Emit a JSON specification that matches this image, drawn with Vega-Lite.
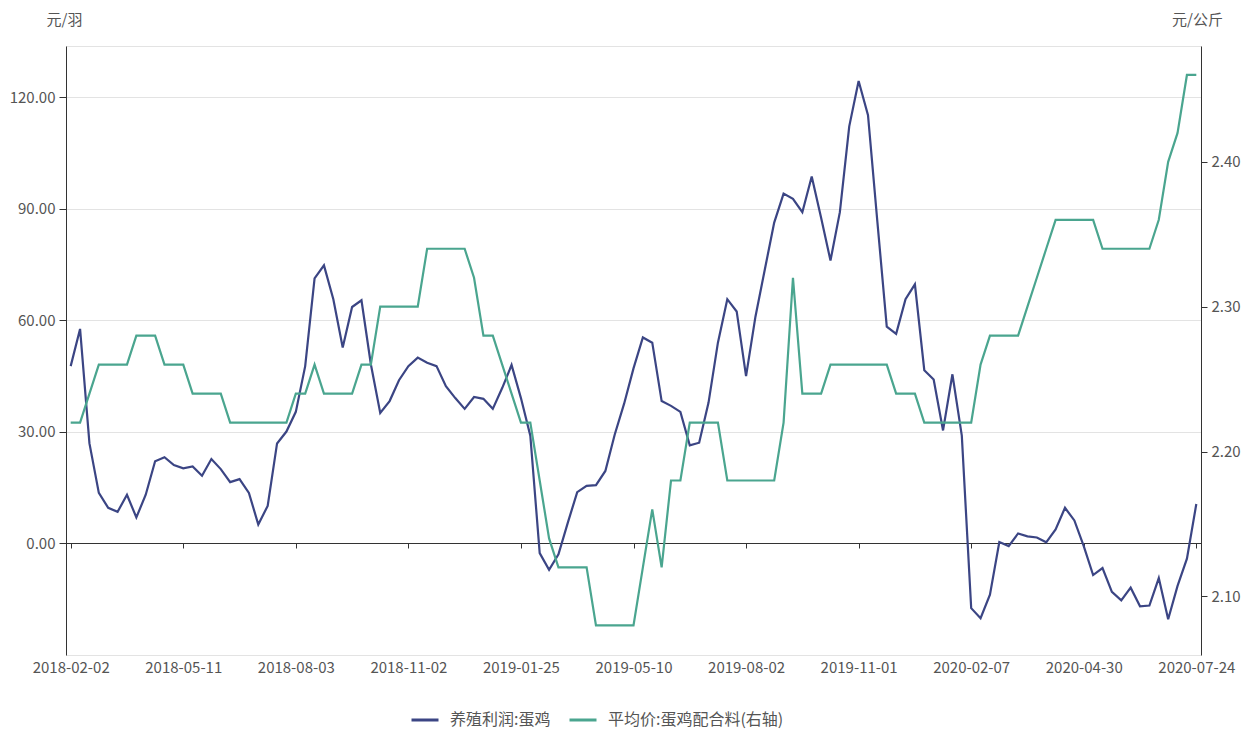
{
  "$schema": "https://vega.github.io/schema/vega-lite/v6.json",
  "width": 1135,
  "height": 609,
  "autosize": {"type": "none"},
  "padding": {"left": 66, "top": 46, "right": 51, "bottom": 76},
  "background": "#ffffff",
  "config": {
    "view": {"stroke": "#e3e3e3", "strokeWidth": 1},
    "font": "Noto Sans CJK SC",
    "axis": {
      "labelFont": "Noto Sans CJK SC",
      "labelFontSize": 15,
      "labelColor": "#555555",
      "titleFont": "Noto Sans CJK SC",
      "titleFontSize": 15,
      "titleFontWeight": "normal",
      "titleColor": "#555555",
      "domainColor": "#333333",
      "tickColor": "#333333",
      "gridColor": "#e3e3e3"
    },
    "legend": {
      "labelFont": "Noto Sans CJK SC",
      "labelFontSize": 16,
      "labelColor": "#555555",
      "labelLimit": 0
    }
  },
  "data": {
    "values": [
      {"date": "2018-02-02", "profit": 47.7, "feed": 2.22},
      {"date": "2018-02-09", "profit": 57.7, "feed": 2.22},
      {"date": "2018-03-02", "profit": 26.9, "feed": 2.24},
      {"date": "2018-03-09", "profit": 13.6, "feed": 2.26},
      {"date": "2018-03-16", "profit": 9.6, "feed": 2.26},
      {"date": "2018-03-23", "profit": 8.5, "feed": 2.26},
      {"date": "2018-03-30", "profit": 13.1, "feed": 2.26},
      {"date": "2018-04-06", "profit": 7.0, "feed": 2.28},
      {"date": "2018-04-13", "profit": 13.1, "feed": 2.28},
      {"date": "2018-04-20", "profit": 22.1, "feed": 2.28},
      {"date": "2018-04-27", "profit": 23.2, "feed": 2.26},
      {"date": "2018-05-04", "profit": 21.1, "feed": 2.26},
      {"date": "2018-05-11", "profit": 20.2, "feed": 2.26},
      {"date": "2018-05-18", "profit": 20.7, "feed": 2.24},
      {"date": "2018-05-25", "profit": 18.2, "feed": 2.24},
      {"date": "2018-06-01", "profit": 22.7, "feed": 2.24},
      {"date": "2018-06-08", "profit": 20.0, "feed": 2.24},
      {"date": "2018-06-15", "profit": 16.5, "feed": 2.22},
      {"date": "2018-06-22", "profit": 17.3, "feed": 2.22},
      {"date": "2018-06-29", "profit": 13.6, "feed": 2.22},
      {"date": "2018-07-06", "profit": 5.1, "feed": 2.22},
      {"date": "2018-07-13", "profit": 10.1, "feed": 2.22},
      {"date": "2018-07-20", "profit": 26.9, "feed": 2.22},
      {"date": "2018-07-27", "profit": 30.1, "feed": 2.22},
      {"date": "2018-08-03", "profit": 35.4, "feed": 2.24},
      {"date": "2018-08-10", "profit": 47.7, "feed": 2.24},
      {"date": "2018-08-17", "profit": 71.3, "feed": 2.26},
      {"date": "2018-08-24", "profit": 74.8, "feed": 2.24},
      {"date": "2018-08-31", "profit": 65.7, "feed": 2.24},
      {"date": "2018-09-07", "profit": 52.7, "feed": 2.24},
      {"date": "2018-09-14", "profit": 63.6, "feed": 2.24},
      {"date": "2018-09-21", "profit": 65.4, "feed": 2.26},
      {"date": "2018-09-28", "profit": 48.2, "feed": 2.26},
      {"date": "2018-10-12", "profit": 35.1, "feed": 2.30},
      {"date": "2018-10-19", "profit": 38.3, "feed": 2.30},
      {"date": "2018-10-26", "profit": 43.9, "feed": 2.30},
      {"date": "2018-11-02", "profit": 47.7, "feed": 2.30},
      {"date": "2018-11-09", "profit": 50.0, "feed": 2.30},
      {"date": "2018-11-16", "profit": 48.6, "feed": 2.34},
      {"date": "2018-11-23", "profit": 47.7, "feed": 2.34},
      {"date": "2018-11-30", "profit": 42.3, "feed": 2.34},
      {"date": "2018-12-07", "profit": 39.1, "feed": 2.34},
      {"date": "2018-12-14", "profit": 36.2, "feed": 2.34},
      {"date": "2018-12-21", "profit": 39.4, "feed": 2.32},
      {"date": "2018-12-28", "profit": 38.9, "feed": 2.28},
      {"date": "2019-01-04", "profit": 36.2, "feed": 2.28},
      {"date": "2019-01-11", "profit": 41.8, "feed": 2.26},
      {"date": "2019-01-18", "profit": 48.0, "feed": 2.24},
      {"date": "2019-01-25", "profit": 39.1, "feed": 2.22},
      {"date": "2019-02-01", "profit": 29.0, "feed": 2.22},
      {"date": "2019-02-22", "profit": -2.6, "feed": 2.18},
      {"date": "2019-03-01", "profit": -7.1, "feed": 2.14},
      {"date": "2019-03-08", "profit": -2.9, "feed": 2.12},
      {"date": "2019-03-15", "profit": 5.6, "feed": 2.12},
      {"date": "2019-03-22", "profit": 13.8, "feed": 2.12},
      {"date": "2019-03-29", "profit": 15.5, "feed": 2.12},
      {"date": "2019-04-04", "profit": 15.7, "feed": 2.08},
      {"date": "2019-04-12", "profit": 19.5, "feed": 2.08},
      {"date": "2019-04-19", "profit": 29.3, "feed": 2.08},
      {"date": "2019-04-26", "profit": 37.6, "feed": 2.08},
      {"date": "2019-05-10", "profit": 47.1, "feed": 2.08},
      {"date": "2019-05-17", "profit": 55.4, "feed": 2.12},
      {"date": "2019-05-24", "profit": 54.0, "feed": 2.16},
      {"date": "2019-05-31", "profit": 38.3, "feed": 2.12},
      {"date": "2019-06-06", "profit": 37.0, "feed": 2.18},
      {"date": "2019-06-14", "profit": 35.4, "feed": 2.18},
      {"date": "2019-06-21", "profit": 26.4, "feed": 2.22},
      {"date": "2019-06-28", "profit": 27.1, "feed": 2.22},
      {"date": "2019-07-05", "profit": 37.9, "feed": 2.22},
      {"date": "2019-07-12", "profit": 54.0, "feed": 2.22},
      {"date": "2019-07-19", "profit": 65.7, "feed": 2.18},
      {"date": "2019-07-26", "profit": 62.4, "feed": 2.18},
      {"date": "2019-08-02", "profit": 45.0, "feed": 2.18},
      {"date": "2019-08-09", "profit": 61.0, "feed": 2.18},
      {"date": "2019-08-16", "profit": 73.7, "feed": 2.18},
      {"date": "2019-08-23", "profit": 86.3, "feed": 2.18},
      {"date": "2019-08-30", "profit": 94.1, "feed": 2.22},
      {"date": "2019-09-06", "profit": 92.7, "feed": 2.32},
      {"date": "2019-09-12", "profit": 89.1, "feed": 2.24},
      {"date": "2019-09-20", "profit": 98.7, "feed": 2.24},
      {"date": "2019-09-27", "profit": 87.6, "feed": 2.24},
      {"date": "2019-10-11", "profit": 76.1, "feed": 2.26},
      {"date": "2019-10-18", "profit": 89.1, "feed": 2.26},
      {"date": "2019-10-25", "profit": 112.2, "feed": 2.26},
      {"date": "2019-11-01", "profit": 124.4, "feed": 2.26},
      {"date": "2019-11-08", "profit": 115.2, "feed": 2.26},
      {"date": "2019-11-15", "profit": 86.5, "feed": 2.26},
      {"date": "2019-11-22", "profit": 58.3, "feed": 2.26},
      {"date": "2019-11-29", "profit": 56.4, "feed": 2.24},
      {"date": "2019-12-06", "profit": 65.7, "feed": 2.24},
      {"date": "2019-12-13", "profit": 69.7, "feed": 2.24},
      {"date": "2019-12-20", "profit": 46.6, "feed": 2.22},
      {"date": "2019-12-27", "profit": 44.1, "feed": 2.22},
      {"date": "2020-01-03", "profit": 30.4, "feed": 2.22},
      {"date": "2020-01-10", "profit": 45.5, "feed": 2.22},
      {"date": "2020-01-17", "profit": 29.0, "feed": 2.22},
      {"date": "2020-02-07", "profit": -17.4, "feed": 2.22},
      {"date": "2020-02-14", "profit": -20.1, "feed": 2.26},
      {"date": "2020-02-21", "profit": -13.8, "feed": 2.28},
      {"date": "2020-02-28", "profit": 0.4, "feed": 2.28},
      {"date": "2020-03-06", "profit": -0.7, "feed": 2.28},
      {"date": "2020-03-13", "profit": 2.7, "feed": 2.28},
      {"date": "2020-03-20", "profit": 1.9, "feed": 2.30},
      {"date": "2020-03-27", "profit": 1.6, "feed": 2.32},
      {"date": "2020-04-03", "profit": 0.3, "feed": 2.34},
      {"date": "2020-04-10", "profit": 3.8, "feed": 2.36},
      {"date": "2020-04-17", "profit": 9.6, "feed": 2.36},
      {"date": "2020-04-24", "profit": 6.2, "feed": 2.36},
      {"date": "2020-04-30", "profit": -0.7, "feed": 2.36},
      {"date": "2020-05-08", "profit": -8.5, "feed": 2.36},
      {"date": "2020-05-15", "profit": -6.6, "feed": 2.34},
      {"date": "2020-05-22", "profit": -13.0, "feed": 2.34},
      {"date": "2020-05-29", "profit": -15.3, "feed": 2.34},
      {"date": "2020-06-05", "profit": -11.9, "feed": 2.34},
      {"date": "2020-06-12", "profit": -16.9, "feed": 2.34},
      {"date": "2020-06-19", "profit": -16.7, "feed": 2.34},
      {"date": "2020-06-24", "profit": -9.3, "feed": 2.36},
      {"date": "2020-07-03", "profit": -20.4, "feed": 2.40},
      {"date": "2020-07-10", "profit": -11.4, "feed": 2.42},
      {"date": "2020-07-17", "profit": -4.1, "feed": 2.46},
      {"date": "2020-07-24", "profit": 10.6, "feed": 2.46}
    ]
  },
  "layer": [
    {
      "mark": {"type": "line", "strokeWidth": 2.2, "interpolate": "linear"},
      "encoding": {
        "x": {
          "field": "date",
          "type": "ordinal",
          "sort": null,
          "scale": {"type": "point", "padding": 0.5},
          "axis": {
            "title": null,
            "orient": "bottom",
            "offset": -112,
            "labels": false,
            "grid": false,
            "domain": true,
            "ticks": true,
            "tickSize": 5,
            "values": ["2018-02-02", "2018-05-11", "2018-08-03", "2018-11-02", "2019-01-25", "2019-05-10", "2019-08-02", "2019-11-01", "2020-02-07", "2020-04-30", "2020-07-24"]
          }
        },
        "y": {
          "field": "profit",
          "type": "quantitative",
          "scale": {"domain": [-30, 133.8], "nice": false, "zero": false},
          "axis": {
            "orient": "left",
            "values": [0, 30, 60, 90, 120],
            "format": ".2f",
            "grid": true,
            "tickSize": 7,
            "labelPadding": 4,
            "title": "元/羽",
            "titleAngle": 0,
            "titleAlign": "center",
            "titleBaseline": "middle",
            "titleX": -2,
            "titleY": -27
          }
        },
        "color": {
          "datum": "养殖利润:蛋鸡",
          "type": "nominal",
          "scale": {
            "domain": ["养殖利润:蛋鸡", "平均价:蛋鸡配合料(右轴)"],
            "range": ["#3b4584", "#4aa58f"]
          },
          "legend": {
            "title": null,
            "orient": "none",
            "direction": "horizontal",
            "legendX": 344,
            "legendY": 659,
            "symbolType": "stroke",
            "symbolSize": 729,
            "symbolStrokeWidth": 3,
            "labelOffset": 10,
            "columnPadding": 12,
            "labelLimit": 0,
            "padding": 0
          }
        }
      }
    },
    {
      "mark": {"type": "line", "strokeWidth": 2.2, "interpolate": "linear"},
      "encoding": {
        "x": {
          "field": "date",
          "type": "ordinal",
          "sort": null,
          "scale": {"type": "point", "padding": 0.5},
          "axis": {
            "title": null,
            "orient": "bottom",
            "labels": true,
            "labelAngle": 0,
            "grid": false,
            "domain": false,
            "ticks": false,
            "tickSize": 0,
            "labelPadding": 5,
            "values": ["2018-02-02", "2018-05-11", "2018-08-03", "2018-11-02", "2019-01-25", "2019-05-10", "2019-08-02", "2019-11-01", "2020-02-07", "2020-04-30", "2020-07-24"]
          }
        },
        "y": {
          "field": "feed",
          "type": "quantitative",
          "scale": {"domain": [2.0595, 2.48], "nice": false, "zero": false},
          "axis": {
            "orient": "right",
            "values": [2.1, 2.2, 2.3, 2.4],
            "format": ".2f",
            "grid": false,
            "tickSize": 6,
            "labelPadding": 4,
            "title": "元/公斤",
            "titleAngle": 0,
            "titleAlign": "center",
            "titleBaseline": "middle",
            "titleX": -4,
            "titleY": -27
          }
        },
        "color": {"datum": "平均价:蛋鸡配合料(右轴)", "type": "nominal"}
      }
    }
  ],
  "resolve": {"scale": {"y": "independent"}, "axis": {"x": "independent"}}
}
